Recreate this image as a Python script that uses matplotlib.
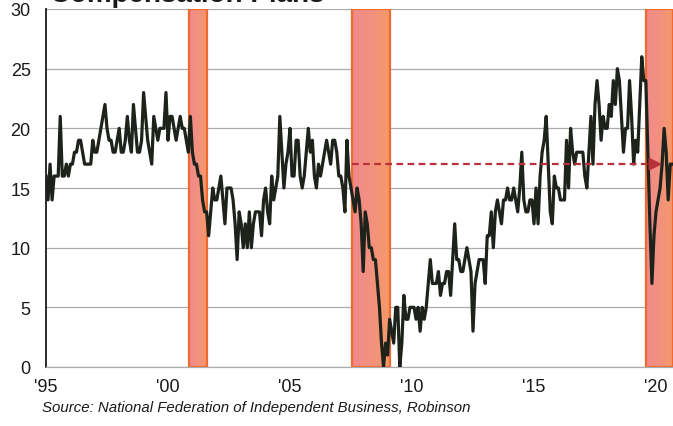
import matplotlib
matplotlib.use("Agg")
import matplotlib.pyplot as plt
from matplotlib.colors import LinearSegmentedColormap
from matplotlib.patches import Rectangle
import numpy as np

plt.rcParams["font.family"] = ["Liberation Sans", "DejaVu Sans"]

# NFIB: net share of small firms planning to raise compensation, monthly from Jan 1995
start_year = 1995
comp_plans = [
    16, 14, 17, 14, 16, 16, 16, 21, 16, 16, 17, 16,   # 1995
    17, 17, 18, 18, 19, 19, 18, 17, 17, 17, 17, 19,   # 1996
    18, 18, 19, 20, 21, 22, 20, 19, 19, 18, 18, 19,   # 1997
    20, 18, 18, 19, 21, 19, 18, 22, 20, 18, 18, 19,   # 1998
    23, 21, 19, 18, 17, 21, 20, 19, 20, 20, 20, 23,   # 1999
    19, 21, 21, 20, 19, 20, 21, 20, 20, 19, 18, 21,   # 2000
    18, 17, 17, 16, 16, 14, 13, 13, 11, 13, 15, 14,   # 2001
    14, 15, 16, 14, 12, 15, 15, 15, 14, 12, 9, 13,    # 2002
    12, 10, 12, 10, 13, 10, 12, 13, 13, 13, 11, 14,   # 2003
    15, 13, 12, 16, 14, 15, 16, 21, 18, 15, 17, 18,   # 2004
    20, 16, 16, 19, 19, 16, 15, 16, 18, 20, 18, 19,   # 2005
    16, 15, 17, 16, 17, 18, 19, 18, 17, 19, 19, 18,   # 2006
    16, 16, 15, 13, 19, 16, 15, 14, 13, 15, 14, 12,   # 2007
    8, 13, 12, 10, 10, 9, 9, 7, 5, 2, 0, 2,           # 2008
    1, 4, 3, 2, 5, 5, 0, 2, 6, 4, 4, 5,               # 2009
    5, 5, 4, 5, 3, 5, 4, 5, 7, 9, 7, 7,               # 2010
    7, 8, 6, 7, 7, 8, 8, 6, 9, 12, 9, 9,              # 2011
    8, 8, 9, 10, 9, 8, 3, 7, 8, 9, 9, 9,              # 2012
    7, 11, 11, 13, 10, 13, 14, 13, 12, 14, 14, 15,    # 2013
    14, 14, 15, 14, 13, 15, 18, 14, 13, 13, 14, 14,   # 2014
    12, 15, 12, 16, 18, 19, 21, 17, 13, 12, 16, 15,   # 2015
    15, 14, 14, 14, 19, 15, 20, 18, 17, 18, 18, 18,   # 2016
    18, 16, 15, 18, 21, 17, 22, 24, 22, 19, 21, 20,   # 2017
    20, 22, 21, 24, 22, 25, 24, 21, 18, 20, 20, 24,   # 2018
    21, 17, 19, 18, 22, 26, 24, 24, 18, 12, 7, 11,    # 2019
    13, 14, 15, 17, 20, 18, 14, 17, 17,               # 2020
]

# Recession shading (decimal years)
recession_start = [2000.87, 2007.53, 2019.59]
recession_end = [2001.61, 2009.10, 2020.70]

# Pre-recession level carried forward
ref_level = 17
ref_from = 2007.53
ref_to = 2020.25

x_ticks = [1995, 2000, 2005, 2010, 2015, 2020]
x_labels = ["'95", "'00", "'05", "'10", "'15", "'20"]
y_ticks = [0, 5, 10, 15, 20, 25, 30]

W, H = 673, 427
fig = plt.figure(figsize=(W / 100, H / 100), dpi=100)
ax = fig.add_axes([46 / W, 59 / H, 627 / W, 358 / H])

months = start_year + np.arange(len(comp_plans)) / 12.0

x_lo, x_hi = 1995, 1995 + 627 / 24.4
ax.set_xlim(x_lo, x_hi)
ax.set_ylim(0, 30)

# Recession bars: pink-to-orange fill with an orange rim
band_cmap = LinearSegmentedColormap.from_list(
    "band", ["#f08a8c", "#f3917e", "#f59a68"])
grad = np.linspace(0, 1, 64).reshape(1, -1)
for s, e in zip(recession_start, recession_end):
    ax.imshow(grad, cmap=band_cmap, aspect="auto", extent=(s, e, 0, 30),
              zorder=1, interpolation="bilinear")
    ax.add_patch(Rectangle((s, 0), e - s, 30, facecolor="none",
                           edgecolor="#ef6a30", lw=1.6, zorder=1.5))
ax.set_xlim(x_lo, x_hi)
ax.set_ylim(0, 30)

ax.plot(months, comp_plans, color="#1d221b", lw=2.3, zorder=3)

ax.plot([ref_from, ref_to - 0.3], [ref_level, ref_level], color="#b8303a",
        lw=1.6, ls=(0, (3, 2)), zorder=4)
ax.annotate("", xy=(ref_to, ref_level), xytext=(ref_to - 0.45, ref_level),
            arrowprops=dict(arrowstyle="-|>", color="#b8303a", lw=1.6,
                            mutation_scale=18, shrinkA=0, shrinkB=0),
            zorder=5)

ax.set_yticks(y_ticks)
ax.set_xticks(x_ticks)
ax.set_xticklabels(x_labels)
ax.yaxis.grid(True, color="#ababab", lw=0.9)
ax.set_axisbelow(True)

for side in ("top", "right"):
    ax.spines[side].set_visible(False)
ax.spines["left"].set_color("#1a1a1a")
ax.spines["left"].set_linewidth(1.3)
ax.spines["bottom"].set_color("#ababab")
ax.spines["bottom"].set_linewidth(0.9)

ax.tick_params(axis="both", length=0, labelsize=13, labelcolor="#1a1a1a")
ax.tick_params(axis="y", pad=11)
ax.tick_params(axis="x", pad=8)

fig.text(50 / W, 1 - 2 / H, "Compensation Plans", weight="bold", size=20,
         va="baseline", color="#1a1a1a")
fig.text(42 / W, 1 - 408 / H,
         "Source: National Federation of Independent Business, Robinson",
         style="italic", size=10.8, va="center", color="#1a1a1a")

fig.savefig("out.png", dpi=100)
